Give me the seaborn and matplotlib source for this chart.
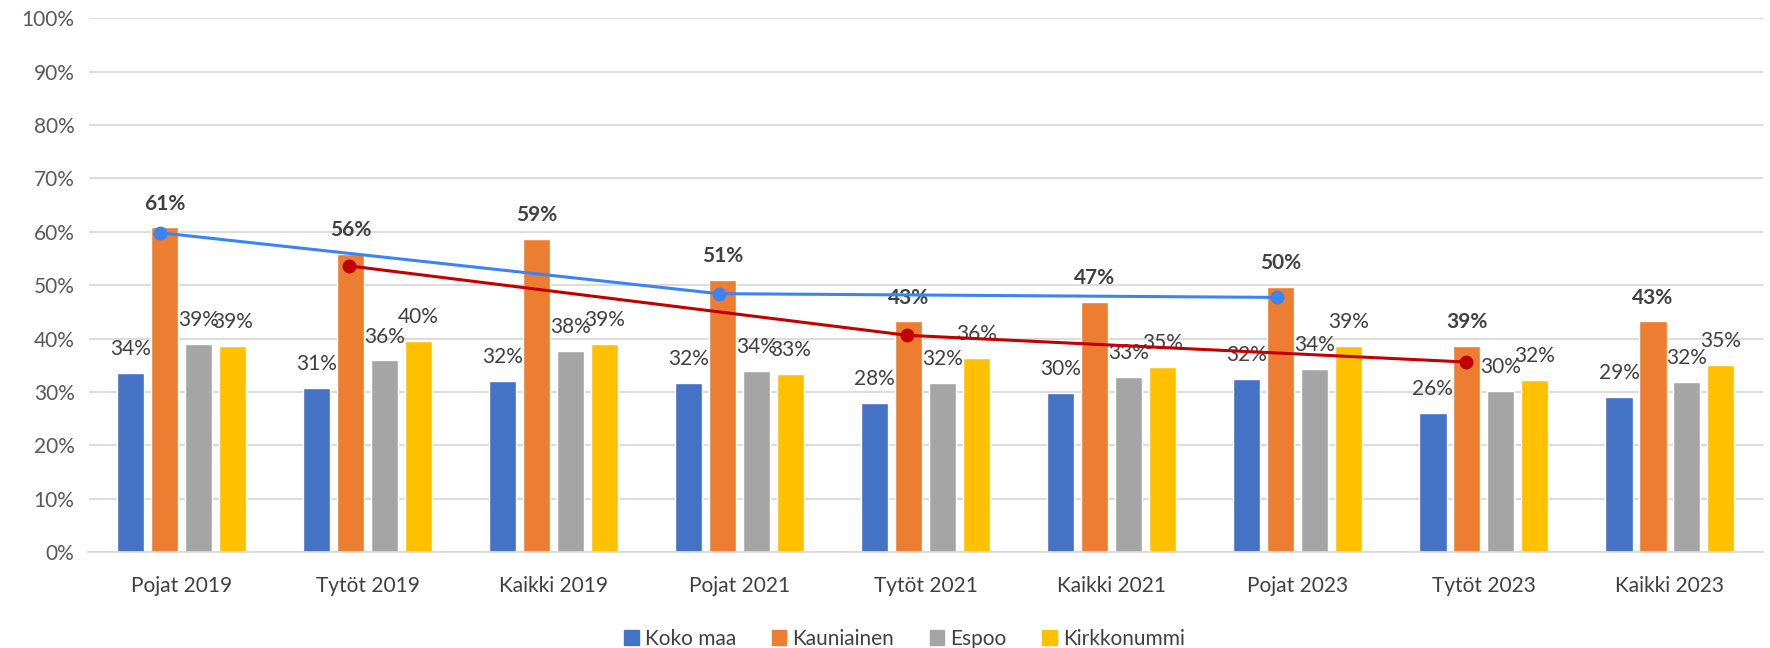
import pandas as pd
import seaborn as sns
import matplotlib.pyplot as plt
from matplotlib.patches import Patch

# categories and series (percent)
groups = ['Pojat 2019', 'Tytöt 2019', 'Kaikki 2019',
          'Pojat 2021', 'Tytöt 2021', 'Kaikki 2021',
          'Pojat 2023', 'Tytöt 2023', 'Kaikki 2023']
series = ['Koko maa', 'Kauniainen', 'Espoo', 'Kirkkonummi']

koko_maa = [33.6, 30.7, 32.1, 31.6, 28.0, 29.8, 32.4, 26.0, 29.1]
kauniainen = [60.8, 55.8, 58.7, 50.9, 43.2, 46.9, 49.6, 38.6, 43.2]
espoo = [38.9, 35.9, 37.6, 34.0, 31.6, 32.8, 34.3, 30.1, 31.9]
kirkkonummi = [38.6, 39.6, 38.9, 33.3, 36.3, 34.6, 38.6, 32.2, 35.1]

# trend lines drawn over the Kauniainen bars
pojat_idx = [0, 3, 6]
pojat_line = [59.8, 48.4, 47.7]
tytot_idx = [1, 4, 7]
tytot_line = [53.6, 40.6, 35.6]

colors = ['#4472C4', '#ED7D31', '#A5A5A5', '#FFC000']

df = pd.DataFrame({
    'Ryhmä': groups * 4,
    'Sarja': [s for s in series for _ in groups],
    'Osuus': koko_maa + kauniainen + espoo + kirkkonummi,
})

sns.set_style('white')
plt.rcParams['font.family'] = ['Lato', 'DejaVu Sans']

fig = plt.figure(figsize=(17.7, 6.48), dpi=100)
ax = fig.add_axes([0.050, 0.148, 0.946, 0.824])

sns.barplot(data=df, x='Ryhmä', y='Osuus', hue='Sarja', order=groups,
            hue_order=series, palette=colors, width=0.73, gap=0.2,
            saturation=1, errorbar=None, legend=False, ax=ax)

# data labels
for i, cont in enumerate(ax.containers):
    ax.bar_label(cont, fmt='{:.0f}%', padding=10, fontsize=15,
                 color='#404040', fontweight='bold' if i == 1 else 'normal')

# lines
kpatches = ax.containers[1].patches
px = [kpatches[i].get_x() + kpatches[i].get_width() * 0.35 for i in pojat_idx]
tx = [kpatches[i].get_x() + kpatches[i].get_width() * 0.45 for i in tytot_idx]
sns.lineplot(x=px, y=pojat_line, color='#3C84F2', linewidth=2.2, marker='o',
             markersize=10, markeredgewidth=0, ax=ax, zorder=5)
sns.lineplot(x=tx, y=tytot_line, color='#C00000', linewidth=2.2, marker='o',
             markersize=10, markeredgewidth=0, ax=ax, zorder=5)

ax.set_ylim(0, 100)
ax.set_xlim(-0.5, len(groups) - 0.5)
ax.set_yticks(range(0, 101, 10))
ax.set_yticklabels([f'{v}%' for v in range(0, 101, 10)])
ax.grid(axis='y', color='#D9D9D9', linewidth=1.3)
ax.set_axisbelow(True)
for s in ['top', 'right', 'left']:
    ax.spines[s].set_visible(False)
ax.spines['bottom'].set_color('#D9D9D9')
ax.spines['bottom'].set_linewidth(1.3)
ax.tick_params(axis='y', length=0, labelsize=15, labelcolor='#595959', pad=10)
ax.tick_params(axis='x', length=0, labelsize=15, labelcolor='#404040', pad=17)
ax.set_xlabel('')
ax.set_ylabel('')

handles = [Patch(color=c, label=s) for c, s in zip(colors, series)]
fig.legend(handles=handles, loc='lower center', bbox_to_anchor=(0.511, -0.03),
           ncol=4, frameon=False, fontsize=15, handlelength=0.7,
           handleheight=0.7, handletextpad=0.3, columnspacing=1.7,
           labelcolor='#404040')

fig.savefig('out.png', dpi=100)
